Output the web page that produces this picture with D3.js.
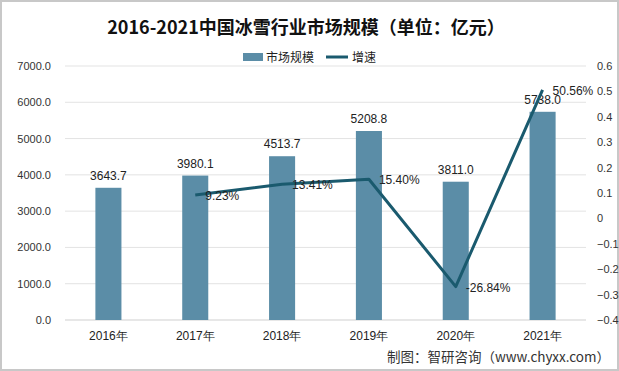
<!DOCTYPE html>
<html>
<head>
<meta charset="utf-8">
<script src="https://d3js.org/d3.v7.min.js"></script>
<style>
  body { margin: 0; background: #fff; }
  svg { display: block; font-family: "Microsoft YaHei", "Noto Sans CJK SC", sans-serif; }
</style>
</head>
<body>
<div id="viz"></div>
<script>
var years = ["2016年", "2017年", "2018年", "2019年", "2020年", "2021年"];
var market = [3643.7, 3980.1, 4513.7, 5208.8, 3811.0, 5738.0];
var growth = [null, 0.0923, 0.1341, 0.1540, -0.2684, 0.5056];
var growthLabels = ["", "9.23%", "13.41%", "15.40%", "-26.84%", "50.56%"];
var leftTicks = [0, 1000, 2000, 3000, 4000, 5000, 6000, 7000];
var rightTicks = [-0.4, -0.3, -0.2, -0.1, 0, 0.1, 0.2, 0.3, 0.4, 0.5, 0.6];

var width = 619, height = 371;
var plotLeft = 65, plotRight = 586, plotTop = 66, plotBottom = 320;
var barColor = "#5b8da7", lineColor = "#1a5a6e";
var numFont = "Liberation Sans, Arial, sans-serif";

var svg = d3.select("#viz").append("svg")
    .attr("width", width)
    .attr("height", height);

svg.append("rect")
    .attr("x", 1).attr("y", 1)
    .attr("width", width - 2).attr("height", height - 2)
    .attr("fill", "#fff")
    .attr("stroke", "#c8c8c8")
    .attr("stroke-width", 2);

var x = d3.scaleBand().domain(years).range([plotLeft, plotRight]).paddingInner(0.7).paddingOuter(0.35);
var y = d3.scaleLinear().domain([0, 7000]).range([plotBottom, plotTop]);
var y2 = d3.scaleLinear().domain([-0.4, 0.6]).range([plotBottom, plotTop]);

// gridlines
svg.append("g").selectAll("line")
    .data(leftTicks)
    .enter().append("line")
    .attr("x1", plotLeft).attr("x2", plotRight)
    .attr("y1", function (d) { return y(d); })
    .attr("y2", function (d) { return y(d); })
    .attr("stroke", function (d) { return d === 0 ? "#cfcfcf" : "#e3e3e3"; })
    .attr("stroke-width", 1);

// left axis
var gl = svg.append("g")
    .attr("transform", "translate(51,0)")
    .call(d3.axisLeft(y).tickValues(leftTicks).tickSize(0).tickPadding(0).tickFormat(d3.format(".1f")));
gl.select(".domain").remove();
gl.selectAll("text").attr("font-size", 11).attr("fill", "#333").attr("font-family", numFont);

// right axis
var gr = svg.append("g")
    .attr("transform", "translate(597,0)")
    .call(d3.axisRight(y2).tickValues(rightTicks).tickSize(0).tickPadding(0)
      .tickFormat(function (d) { return Math.abs(d) < 1e-9 ? "0" : d3.format(".1f")(d); }));
gr.select(".domain").remove();
gr.selectAll("text").attr("font-size", 11).attr("fill", "#333").attr("font-family", numFont);

// x axis labels
var gx = svg.append("g")
    .attr("transform", "translate(0," + (plotBottom + 11) + ")")
    .call(d3.axisBottom(x).tickSize(0).tickPadding(0));
gx.select(".domain").remove();
gx.selectAll("text").attr("font-size", 12).attr("fill", "#222");

// bars
svg.append("g").selectAll("rect")
    .data(market)
    .enter().append("rect")
    .attr("x", function (d, i) { return x(years[i]); })
    .attr("y", function (d) { return y(d); })
    .attr("width", x.bandwidth())
    .attr("height", function (d) { return plotBottom - y(d); })
    .attr("fill", barColor);

svg.append("g").selectAll("text")
    .data(market)
    .enter().append("text")
    .attr("x", function (d, i) { return x(years[i]) + x.bandwidth() / 2; })
    .attr("y", function (d) { return y(d) - 8; })
    .attr("text-anchor", "middle")
    .attr("font-size", 12)
    .attr("fill", "#222")
    .attr("font-family", numFont)
    .text(function (d) { return d.toFixed(1); });

// growth line
var pts = growth.map(function (g, i) { return { g: g, i: i }; }).filter(function (d) { return d.g !== null; });
var line = d3.line()
    .x(function (d) { return x(years[d.i]) + x.bandwidth() / 2; })
    .y(function (d) { return y2(d.g); });
svg.append("path")
    .datum(pts)
    .attr("d", line)
    .attr("fill", "none")
    .attr("stroke", lineColor)
    .attr("stroke-width", 3)
    .attr("stroke-linejoin", "round");

svg.append("g").selectAll("text")
    .data(pts)
    .enter().append("text")
    .attr("x", function (d) { return x(years[d.i]) + x.bandwidth() / 2 + 10; })
    .attr("y", function (d) { return y2(d.g) + 5; })
    .attr("font-size", 12)
    .attr("fill", "#222")
    .attr("font-family", numFont)
    .text(function (d) { return growthLabels[d.i]; });

// title
svg.append("text")
    .attr("x", 306).attr("y", 34)
    .attr("text-anchor", "middle")
    .attr("font-size", 18)
    .attr("font-weight", "bold")
    .attr("fill", "#111")
    .text("2016-2021中国冰雪行业市场规模（单位：亿元）");

// legend
var lg = svg.append("g").attr("transform", "translate(243,57)");
lg.append("rect").attr("x", 0).attr("y", -4).attr("width", 20).attr("height", 8).attr("fill", barColor);
lg.append("text").attr("x", 23).attr("y", 5).attr("font-size", 12).attr("fill", "#222").text("市场规模");
lg.append("line").attr("x1", 83).attr("x2", 105).attr("y1", 0).attr("y2", 0)
    .attr("stroke", lineColor).attr("stroke-width", 3);
lg.append("text").attr("x", 109).attr("y", 5).attr("font-size", 12).attr("fill", "#222").text("增速");

// source
svg.append("text")
    .attr("x", 610).attr("y", 362)
    .attr("text-anchor", "end")
    .attr("font-size", 13.5)
    .attr("fill", "#333")
    .text("制图：智研咨询（www.chyxx.com）");
</script>
</body>
</html>
